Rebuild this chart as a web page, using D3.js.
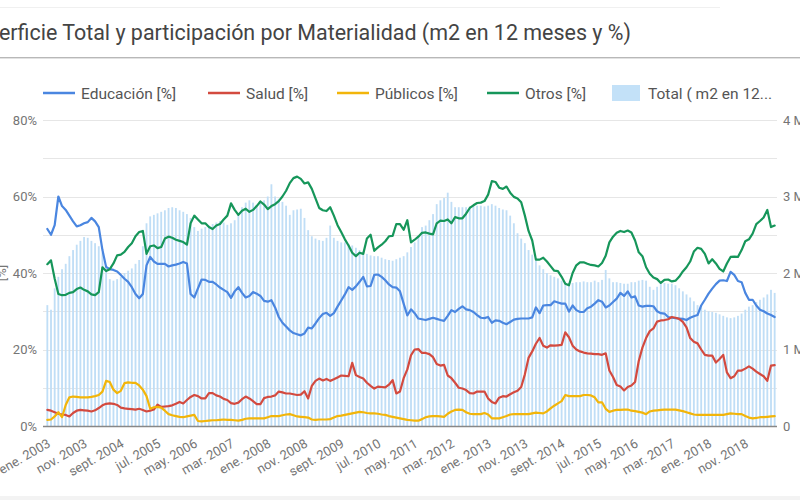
<!DOCTYPE html>
<html><head><meta charset="utf-8">
<script src="https://cdn.jsdelivr.net/npm/d3@7"></script>
<style>
body{margin:0;background:#fff;}
svg{display:block;font-family:Roboto,"Noto Sans",sans-serif;}
</style>
</head><body>
<svg id="chart" width="800" height="500"></svg>
<script>
// ---- data ----
const startMonth = new Date(2003, 0, 1); // ene. 2003 .. jul. 2019 (monthly)
const educacion = [
51.5,50,52.5,60,57.5,56.5,55,53.5,52.2,52.5,
53,53.3,54.4,53.5,52,46,41.6,41,40.8,40.4,
39.5,38.5,37.7,36.3,34.5,33.4,34.5,42,44.2,43,
42.4,42.4,42.4,41.7,42,42.2,42.5,42.9,42.5,34.5,
33.6,36,38.3,38.2,37.7,37.7,37,36.2,35.6,35,
33.5,35.2,36.3,34.8,33.6,34,35,34.6,34,32.7,
32.5,32.9,31,28.5,27,26,25,24.3,24,23.7,
24.2,25.7,25.5,26.8,28.2,29.3,29.6,28.8,29.5,31.2,
32.8,34.4,36.3,35.6,36.5,37.7,39,36.5,36.6,39.5,
39.6,39,38.1,37,36.3,36.2,35.2,32,28.9,30.5,
29.5,28.1,27.9,27.7,28,28.3,28,27.7,27.5,28.8,
30.3,29.8,30.6,31.3,30.5,30.3,29.8,29,28.3,28.2,
28.5,27,27.6,27.5,27,26.6,27.2,27.8,28,28.1,
28.1,28.1,28.4,31,29.5,31.5,31.6,31.6,32.6,32.3,
32,32,29.9,31.5,30.3,29.8,29.8,30.8,31.2,32,
32.9,32.5,31,31.5,32.4,33.3,34.8,34,35.2,33.6,
33.9,31.5,31.2,31.4,31.4,31.3,30,29.5,29.4,28.5,
28.3,28.2,28.1,28,27.7,28.3,28.7,29,31.5,33,
34.6,35.9,37.1,38,38.1,37.9,40.3,39.5,37.9,37.6,
34.8,33,33,31.5,30.4,30,29.4,29,28.5];
const salud = [
4.2,4,3.6,3.2,3,2.9,2.5,3.4,4,4.2,
4.1,4,3.8,4.1,4.7,5.4,5.8,5.9,5.8,5.5,
4.8,4.6,4.5,4.4,4.3,4.5,4.2,3.8,4,4.3,
5.6,5,5.1,5.2,5.4,5.8,6.3,5.9,6.8,7.6,
8.1,7.8,7.2,7.2,8.6,8.6,8,7.7,7.1,6.8,
6,5.8,6.1,7,7.7,7.2,6.5,5.7,5.7,7.3,
7.6,7.7,8,9,8.8,8.5,8.5,8.3,8.1,8.2,
9.1,7.2,10.5,11.8,12.4,11.9,12.3,11.8,12.2,12.7,
13.2,13.1,13,16.5,13.3,12.8,12.4,11.3,10.5,9.8,
10.3,10.2,10.1,10.8,12,8.5,9,12.5,14.8,18.5,
20,20.1,19.1,19.1,18.8,18,16.2,15.8,16,13.2,
12.5,11.3,10,9.8,9.4,8.6,8.5,9,9,9,
7.2,6.3,5.9,7.4,7.8,7.7,8.3,8.8,9.2,10.2,
13.5,17.8,19.5,21.5,23,21,20.5,21.1,21,21.1,
21.2,24.5,23.2,21,20,19.5,19.2,19,18.9,18.8,
18.8,18.6,19,14.5,12.8,10.7,10.3,9.3,10.2,10.6,
11.5,17,20.5,23,24.8,25.5,27.3,27.6,27.7,27.9,
28.5,28.3,28,27.2,25.8,23,22,21.6,20,18.6,
18.4,18.4,16.6,17.5,18.6,14,12.5,13,14.5,14.5,
15,15.6,15,14.2,13.6,13,11.8,15.8,15.9];
const publicos = [
1.6,1.7,2.5,3.6,2.3,5.5,7.5,7.7,7.6,7.5,
7.5,7.5,7.6,7.8,8.1,9,11.8,11.5,9.5,8.6,
9.2,11.2,11.4,11.3,11.3,10.6,9.5,7.8,4.5,4.9,
5,4.8,4,3.1,2.8,2.6,2.4,2.3,2.5,2.7,
2.9,1.3,1.2,1.3,1.4,1.5,1.5,1.6,1.7,1.6,
1.6,1.5,1.4,1.6,1.9,2,2,2,2,2,
2.3,2.6,2.6,2.6,2.8,3,3.1,2.8,2.5,2.4,
2.3,2.2,1.7,1.6,1.7,1.7,1.7,1.8,2.2,2.6,
2.7,2.9,3.1,3.3,3.5,3.7,3.6,3.4,3.3,3.3,
3.2,3,2.9,2.6,2.4,2.2,2,1.8,1.6,1.5,
1.4,1.4,1.8,2.3,2.5,2.6,2.6,2.5,2.4,3.2,
3.8,4.2,4.3,4.2,3.6,3.2,3.1,3.1,3.1,3.4,
3,2,2,2,2.3,2.6,3,3.1,3.1,3.1,
3.1,3.1,3.3,3.5,3.4,3.3,3.8,4.6,5.3,5.9,
6.5,8.1,7.8,7.8,7.8,7.8,8.1,8.1,8,7.5,
6.2,6.2,4.5,3.7,4,4.2,4.2,4.3,4.3,4,
3.9,3.7,3.5,3.1,3.8,4,4.1,4.2,4.3,4.3,
4.3,4.3,4.1,3.9,3.6,3.3,3,2.9,2.9,2.9,
2.9,2.9,2.9,2.9,2.9,3.1,3.3,3.2,3.1,3.1,
2.6,2.2,2,2.1,2.3,2.3,2.4,2.5,2.6];
const otros = [
42.3,43.3,38.5,34.5,34.2,34.3,34.8,35,35.8,36.2,
35.6,35.2,34.4,34.2,35,41.5,40.5,41,42.5,44.6,
44.8,45.5,46.8,47.8,49.6,50.7,51,45,47,47.2,
46.5,46.8,49,49.5,49.2,48.7,48.4,48.1,47.4,53,
55,54,53,53,52,51.5,52.4,52.8,54,55,
58.2,56.5,55.2,56.3,56.8,56,56.5,57.5,58.7,57.9,
56.7,57.5,58,58.8,60,61.5,63.5,64.8,65.2,64.6,
63.4,63.7,62,59.5,57,56.4,56.2,57.2,55,52.5,
50.7,48.8,47.2,45.3,44.4,45.3,45,49,50,45.8,
46.7,47.4,48.3,49.6,49.7,52.8,52.8,51.3,53.8,48,
48.7,49.5,50.5,50.6,50.3,50.1,53,53.7,53.6,54,
53,54.6,54.3,54.3,55.5,57,57.7,58.3,58.4,58.8,
60.5,64,63.8,62.3,62,62.6,61,59.9,59.5,58.5,
55,51,48.5,43.5,43.5,44,43,41.8,40.6,40.5,
39,37.2,36.8,40,42,42.8,42.8,42.4,42.1,42,
41.7,42.6,44.5,48,49.5,50.5,51,50.7,51.1,50.6,
48.5,45.4,44.4,41.5,39.8,38.8,38.4,37.4,38.2,38.3,
37.8,38,39,40.4,41.5,43,45.6,46.6,46.3,45,
42.5,43.6,42.5,41.1,40.4,42.5,44.2,44.3,44.2,46,
48.3,48.8,50.3,52.8,53.6,54.5,56.5,52,52.4];
// Total m2 in 12 months, in millions
const totalM = [
1.58,1.52,1.8,1.95,2.05,2.12,2.22,2.3,2.37,2.42,
2.47,2.46,2.42,2.39,2.35,2.27,2.1,1.92,1.9,1.92,
1.95,2.0,2.03,2.06,2.12,2.17,2.35,2.65,2.74,2.76,
2.78,2.8,2.82,2.85,2.86,2.85,2.82,2.8,2.77,2.72,
2.6,2.55,2.58,2.6,2.62,2.64,2.66,2.68,2.66,2.63,
2.65,2.69,2.78,2.86,2.92,2.95,2.92,2.89,2.92,2.95,
3.0,3.16,3.0,2.97,2.93,2.88,2.76,2.82,2.83,2.84,
2.72,2.56,2.48,2.45,2.43,2.42,2.46,2.62,2.46,2.42,
2.4,2.4,2.38,2.36,2.33,2.3,2.28,2.25,2.23,2.22,
2.22,2.2,2.18,2.17,2.16,2.18,2.2,2.22,2.27,2.34,
2.4,2.49,2.6,2.62,2.69,2.77,2.9,2.95,2.98,3.05,
2.93,2.86,2.86,2.86,2.86,2.87,2.88,2.88,2.88,2.87,
2.88,2.9,2.88,2.85,2.83,2.82,2.75,2.65,2.52,2.45,
2.39,2.3,2.24,2.19,2.1,2.05,2.0,1.97,1.95,1.93,
1.9,1.88,1.87,1.87,1.88,1.88,1.89,1.88,1.88,1.9,
1.88,1.91,2.04,1.93,1.88,1.88,1.87,1.86,1.86,1.88,
1.88,1.9,1.91,1.9,1.82,1.78,1.82,1.86,1.87,1.86,
1.86,1.84,1.8,1.76,1.72,1.68,1.63,1.58,1.55,1.52,
1.5,1.49,1.48,1.46,1.44,1.42,1.41,1.42,1.44,1.47,
1.52,1.56,1.58,1.62,1.65,1.68,1.72,1.78,1.74];
const tickLabels = ["ene. 2003","nov. 2003","sept. 2004","jul. 2005","may. 2006","mar. 2007",
"ene. 2008","nov. 2008","sept. 2009","jul. 2010","may. 2011","mar. 2012","ene. 2013",
"nov. 2013","sept. 2014","jul. 2015","may. 2016","mar. 2017","ene. 2018","nov. 2018"];
const tickStep = 10;
const leftTicks = [0, 20, 40, 60, 80];
const rightTicks = [0, 1, 2, 3, 4];
const seriesNames = ["Educación [%]", "Salud [%]", "Públicos [%]", "Otros [%]"];
const totalName = "Total ( m2 en 12...";
const titleText = "Superficie Total y participación por Materialidad (m2 en 12 meses y %)";

// ---- chart ----
const colors = ["#4a86e0", "#d34a3f", "#f2b50a", "#16965a"];
const barColor = "#c0def6";
const N = educacion.length;
const months = d3.range(N).map(i => d3.timeMonth.offset(startMonth, i));
const svg = d3.select("#chart");
const plot = {left: 43, right: 777, top: 120, bottom: 426};

const x = d3.scaleBand().domain(d3.range(N)).range([45.5, 776.5]).paddingInner(0.5).paddingOuter(0.25);
const xc = i => x(i) + x.bandwidth() / 2;
const yL = d3.scaleLinear().domain([0, 80]).range([plot.bottom, plot.top]);
const yR = d3.scaleLinear().domain([0, 4]).range([plot.bottom, plot.top]);

// header
svg.append("rect").attr("x", 0).attr("y", 0).attr("width", 800).attr("height", 500).attr("fill", "#fff");
svg.append("line").attr("x1", 0).attr("x2", 720).attr("y1", 7.5).attr("y2", 7.5).attr("stroke", "#f0f0f0");
svg.append("line").attr("x1", 0).attr("x2", 800).attr("y1", 57.5).attr("y2", 57.5).attr("stroke", "#b8b8b8");
svg.append("line").attr("x1", 0).attr("x2", 800).attr("y1", 58.5).attr("y2", 58.5).attr("stroke", "#e2e2e2");
svg.append("rect").attr("x", 0).attr("y", 496).attr("width", 800).attr("height", 4).attr("fill", "#f3f3f3");

const title = svg.append("text").attr("y", 40).attr("fill", "#444").attr("font-size", 20).text(titleText);
// the title is cut off at the left edge in the reference
const probe = svg.append("text").attr("font-size", 20).attr("visibility", "hidden").text("Sup");
const cut = probe.node().getComputedTextLength();
probe.remove();
const fullW = title.node().getComputedTextLength();
const fs = 20 * 632 / (fullW - cut);
title.attr("font-size", fs).attr("x", -cut * fs / 20 - 1);

// gridlines
svg.append("g").selectAll("line").data(d3.range(10, 81, 10)).join("line")
  .attr("x1", plot.left).attr("x2", plot.right)
  .attr("y1", d => Math.round(yL(d)) + 0.5).attr("y2", d => Math.round(yL(d)) + 0.5)
  .attr("stroke", "#e6e6e6").attr("stroke-width", 1);

// bars
svg.append("g").selectAll("rect").data(totalM).join("rect")
  .attr("x", (d, i) => x(i)).attr("width", x.bandwidth())
  .attr("y", d => yR(d)).attr("height", d => yR(0) - yR(d))
  .attr("fill", barColor);

// baseline
svg.append("line").attr("x1", plot.left).attr("x2", plot.right)
  .attr("y1", plot.bottom + 0.5).attr("y2", plot.bottom + 0.5)
  .attr("stroke", "#888").attr("stroke-width", 1.6);

// lines
const lineGen = d3.line().x((d, i) => xc(i)).y(d => yL(d)).curve(d3.curveLinear);
[educacion, salud, publicos, otros].forEach((s, k) => {
  svg.append("path").datum(s).attr("d", lineGen)
    .attr("fill", "none").attr("stroke", colors[k]).attr("stroke-width", 2.2)
    .attr("stroke-linejoin", "round").attr("stroke-linecap", "round");
});

// axes
const axisColor = "#757575";
const gL = svg.append("g").attr("transform", `translate(${plot.left},0)`)
  .call(d3.axisLeft(yL).tickValues(leftTicks).tickFormat(d => d + "%").tickSize(0).tickPadding(6));
const gR = svg.append("g").attr("transform", `translate(${plot.right},0)`)
  .call(d3.axisRight(yR).tickValues(rightTicks).tickFormat(d => d === 0 ? "0" : d + " M").tickSize(0).tickPadding(6));
const tickIdx = d3.range(0, N, tickStep).slice(0, tickLabels.length);
const gB = svg.append("g").attr("transform", `translate(0,${plot.bottom})`)
  .call(d3.axisBottom(x).tickValues(tickIdx).tickFormat((d, k) => tickLabels[k]).tickSize(0));
[gL, gR, gB].forEach(g => {
  g.select(".domain").remove();
  g.selectAll("text").attr("fill", axisColor).attr("font-size", 13).attr("font-family", "Roboto, sans-serif");
});
gB.selectAll("text").attr("text-anchor", "end").attr("y", 0).attr("dy", 0)
  .attr("transform", "translate(4,20) rotate(-30)");

// clipped y-axis title at the far left
svg.append("text").attr("transform", "translate(6,273) rotate(-90)")
  .attr("text-anchor", "middle").attr("fill", axisColor).attr("font-size", 13).text("[%]");

// legend
const legX = [43, 208, 337, 487];
const leg = svg.append("g").attr("font-size", 15.5).attr("fill", "#555");
seriesNames.forEach((n, k) => {
  leg.append("line").attr("x1", legX[k]).attr("x2", legX[k] + 32).attr("y1", 93).attr("y2", 93)
    .attr("stroke", colors[k]).attr("stroke-width", 2.5);
  leg.append("text").attr("x", legX[k] + 38).attr("y", 98.5).text(n);
});
leg.append("rect").attr("x", 612).attr("y", 85).attr("width", 28).attr("height", 16).attr("fill", "#c3e1f8");
leg.append("text").attr("x", 648).attr("y", 98.5).text(totalName);
</script>
</body></html>
